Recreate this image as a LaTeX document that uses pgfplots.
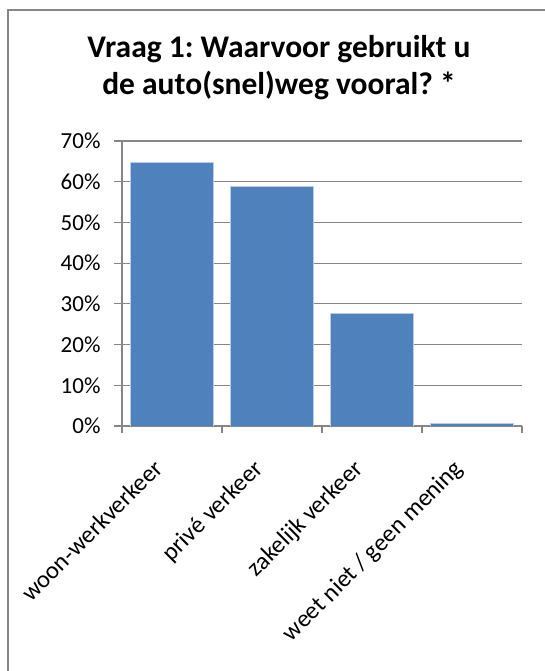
\documentclass[border=0pt]{standalone}
\usepackage{pgfplots}
\pgfplotsset{compat=1.18}
\usepackage{fontspec}
\setmainfont{Carlito}
\frenchspacing
\definecolor{barBlue}{RGB}{79,129,189}
\definecolor{barEdge}{RGB}{185,205,229}
\definecolor{gridGray}{RGB}{134,134,134}
\definecolor{frameGray}{RGB}{134,134,134}

\begin{document}
\begin{tikzpicture}[x=1pt,y=1pt]
\useasboundingbox (0,0) rectangle (545,671);
\fill[white] (0,0) rectangle (545,671);
% chart frame (right and bottom edges cut off)
\draw[frameGray, line width=1.5pt] (8,0) -- (8,661) -- (545,661);

% title
\node[anchor=base, font=\fontsize{31.5}{37}\selectfont\bfseries] at (279,613) {Vraag 1: Waarvoor gebruikt u};
\node[anchor=base, font=\fontsize{31.5}{37}\selectfont\bfseries] at (279,576) {de auto(snel)weg vooral? *};

\begin{axis}[
    at={(122pt,245pt)}, anchor=south west,
    scale only axis,
    width=400pt, height=285pt,
    ybar, bar width=83pt,
    xmin=-0.5, xmax=3.5,
    ymin=0, ymax=70,
    ytick={0,10,...,70},
    yticklabel={\pgfmathprintnumber{\tick}\%},
    /pgf/number format/assume math mode=true,
    xtick={0,1,2,3},
    xticklabels={woon-werkverkeer, privé verkeer, zakelijk verkeer, weet niet / geen mening},
    minor xtick={-0.5,0.5,1.5,2.5,3.5},
    axis x line*=bottom, axis y line*=left,
    axis line style={gridGray, line width=1.2pt, -},
    tick align=outside,
    major tick length=8pt, minor tick length=7pt,
    tick style={gridGray, line width=1.2pt},
    xtick style={draw=none},
    minor x tick style={draw=gridGray, line width=1.2pt},
    ymajorgrids,
    grid style={gridGray, line width=1.2pt},
    ticklabel style={font=\fontsize{23}{27}\selectfont, black},
    yticklabel style={xshift=-10pt},
    xticklabel style={font=\fontsize{24.5}{29}\selectfont, xshift=-20pt, yshift=-19pt, rotate=45, anchor=north east},
]
\addplot[fill=barBlue, draw=barEdge, line width=0.6pt] coordinates {
    (0,64.8) (1,58.9) (2,27.7) (3,0.6)
};
\end{axis}
\end{tikzpicture}
\end{document}
